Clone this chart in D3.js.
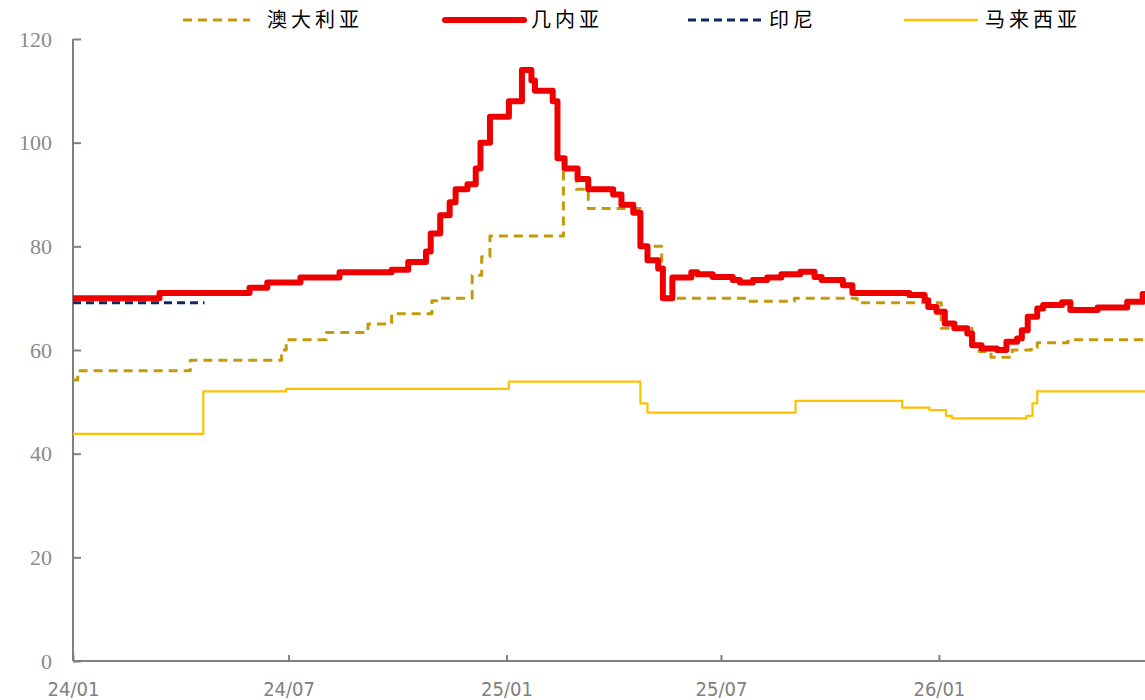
<!DOCTYPE html>
<html>
<head>
<meta charset="utf-8">
<script src="https://cdn.jsdelivr.net/npm/d3@7"></script>
<style>
  body { margin: 0; background: #fff; }
  svg { display: block; }
</style>
</head>
<body>
<svg id="chart" width="1145" height="700"></svg>
<script>
// Series: [date, value], drawn as step lines
var guinea = [
  ["2024-01-01", 70], ["2024-03-14", 71], ["2024-05-29", 72], ["2024-06-13", 73],
  ["2024-07-11", 74], ["2024-08-13", 75], ["2024-09-26", 75.5], ["2024-10-10", 77],
  ["2024-10-25", 79], ["2024-10-29", 82.5], ["2024-11-06", 86], ["2024-11-14", 88.5],
  ["2024-11-19", 91], ["2024-11-29", 92], ["2024-12-06", 95], ["2024-12-10", 100],
  ["2024-12-18", 105], ["2025-01-03", 108], ["2025-01-14", 114], ["2025-01-22", 112],
  ["2025-01-25", 110], ["2025-02-09", 108], ["2025-02-13", 97], ["2025-02-19", 95],
  ["2025-03-02", 93], ["2025-03-11", 91], ["2025-04-01", 90], ["2025-04-08", 88],
  ["2025-04-18", 86.5], ["2025-04-24", 80], ["2025-04-30", 77.3], ["2025-05-09", 75.7],
  ["2025-05-13", 70], ["2025-05-21", 74], ["2025-06-06", 75], ["2025-06-11", 74.6],
  ["2025-06-24", 74.1], ["2025-07-11", 73.5], ["2025-07-17", 73], ["2025-07-28", 73.5],
  ["2025-08-09", 74], ["2025-08-21", 74.6], ["2025-09-06", 75.1], ["2025-09-18", 74.1],
  ["2025-09-24", 73.5], ["2025-10-12", 72.5], ["2025-10-20", 71], ["2025-12-07", 70.6],
  ["2025-12-20", 69.6], ["2025-12-23", 68.3], ["2025-12-30", 67.4], ["2026-01-06", 65.1],
  ["2026-01-14", 64.2], ["2026-01-25", 63.2], ["2026-01-29", 60.9], ["2026-02-06", 60.3],
  ["2026-02-19", 60], ["2026-02-27", 61.6], ["2026-03-08", 62.2], ["2026-03-12", 63.8],
  ["2026-03-17", 66.4], ["2026-03-25", 68], ["2026-03-30", 68.7], ["2026-04-15", 69.2],
  ["2026-04-22", 67.7], ["2026-05-15", 68.2], ["2026-06-09", 69.3], ["2026-06-22", 70.8],
  ["2026-06-24", 71.2]
];

var australia = [
  ["2024-01-01", 54.2], ["2024-01-05", 56], ["2024-04-09", 58], ["2024-06-25", 60],
  ["2024-06-29", 62], ["2024-08-02", 63.4], ["2024-09-06", 65], ["2024-09-26", 67],
  ["2024-10-30", 69.5], ["2024-11-03", 70], ["2024-12-03", 74.4], ["2024-12-11", 78],
  ["2024-12-18", 82], ["2025-02-18", 95], ["2025-03-01", 91], ["2025-03-11", 87.3],
  ["2025-04-24", 80], ["2025-05-12", 70], ["2025-07-23", 69.4], ["2025-09-01", 70],
  ["2025-10-24", 69.1], ["2026-01-03", 64.2], ["2026-01-29", 60.8], ["2026-02-04", 59.7],
  ["2026-02-14", 58.6], ["2026-03-04", 60], ["2026-03-20", 60.5], ["2026-03-25", 61.4],
  ["2026-04-20", 62], ["2026-06-24", 62]
];

var indonesia = [
  ["2024-01-01", 69.1], ["2024-04-21", 69.1]
];

var malaysia = [
  ["2024-01-01", 43.8], ["2024-04-20", 52], ["2024-06-29", 52.5], ["2025-01-03", 53.9],
  ["2025-04-24", 49.7], ["2025-04-30", 47.9], ["2025-09-02", 50.2], ["2025-12-01", 48.9],
  ["2025-12-24", 48.4], ["2026-01-07", 47.3], ["2026-01-12", 46.8], ["2026-03-16", 47.3],
  ["2026-03-21", 49.7], ["2026-03-25", 52], ["2026-06-24", 52]
];

var seriesNames = ["澳大利亚", "几内亚", "印尼", "马来西亚"];
var yTicks = [0, 20, 40, 60, 80, 100, 120];

var parseDate = d3.timeParse("%Y-%m-%d");
var margin = {top: 39, right: 0, bottom: 39, left: 73};
var width = 1145 - margin.left - margin.right,
    height = 700 - margin.top - margin.bottom;

var svg = d3.select("#chart");
var g = svg.append("g").attr("transform", "translate(" + margin.left + "," + margin.top + ")");

var x = d3.scaleTime()
  .domain([parseDate("2024-01-01"), parseDate("2026-06-24")])
  .range([0, width]);
var y = d3.scaleLinear().domain([0, 120]).range([height, 0]);

var axisColor = "#808080";

// Y axis (ticks pointing inward)
var yAxis = g.append("g")
  .call(d3.axisLeft(y).tickValues(yTicks).tickSize(-8).tickPadding(21));
yAxis.select(".domain").attr("stroke", axisColor).attr("stroke-width", 2)
  .attr("d", "M0," + height + "V0");
yAxis.selectAll(".tick line").attr("stroke", axisColor).attr("stroke-width", 2);
yAxis.selectAll(".tick text")
  .attr("fill", "#8a8a8a")
  .style("font-family", "'Liberation Serif', serif")
  .style("font-size", "22px");

// X axis
var xAxis = g.append("g")
  .attr("transform", "translate(0," + height + ")")
  .call(d3.axisBottom(x)
    .ticks(d3.timeMonth.every(6))
    .tickFormat(d3.timeFormat("%y/%m"))
    .tickSize(-6).tickPadding(21));
xAxis.select(".domain").attr("stroke", axisColor).attr("stroke-width", 2)
  .attr("d", "M0,0H" + width);
xAxis.selectAll(".tick line").attr("stroke", axisColor).attr("stroke-width", 2);
xAxis.selectAll(".tick text")
  .attr("fill", axisColor)
  .style("font-family", "'DejaVu Sans Condensed', 'DejaVu Sans', sans-serif")
  .style("font-size", "20px");

var line = d3.line()
  .curve(d3.curveStepAfter)
  .x(function(d){ return x(parseDate(d[0])); })
  .y(function(d){ return y(d[1]); });

var styles = [
  {data: malaysia, color: "#FFC000", width: 2.2, dash: null},
  {data: australia, color: "#C39A0C", width: 3, dash: "9,6"},
  {data: indonesia, color: "#0C2A66", width: 3, dash: "8,5"},
  {data: guinea, color: "#EE0000", width: 6, dash: null}
];

styles.forEach(function(s){
  g.append("path")
    .datum(s.data)
    .attr("fill", "none")
    .attr("stroke", s.color)
    .attr("stroke-width", s.width)
    .attr("stroke-dasharray", s.dash)
    .attr("stroke-linejoin", "round")
    .attr("d", line);
});

// Legend
var legendItems = [
  {name: seriesNames[0], color: "#C39A0C", width: 3, dash: "9,6", x1: 183, x2: 250, tx: 267},
  {name: seriesNames[1], color: "#EE0000", width: 6, dash: null, x1: 445, x2: 524, tx: 531},
  {name: seriesNames[2], color: "#0C2A66", width: 3, dash: "8,5", x1: 688, x2: 762, tx: 769},
  {name: seriesNames[3], color: "#FFC000", width: 2.5, dash: null, x1: 905, x2: 977, tx: 985}
];

var legend = svg.append("g").attr("class", "legend");
legendItems.forEach(function(d){
  legend.append("line")
    .attr("x1", d.x1).attr("x2", d.x2)
    .attr("y1", 20).attr("y2", 20)
    .attr("stroke", d.color)
    .attr("stroke-width", d.width)
    .attr("stroke-linecap", d.dash ? "butt" : "round")
    .attr("stroke-dasharray", d.dash);
  legend.append("text")
    .attr("x", d.tx).attr("y", 20)
    .attr("dy", "0.35em")
    .attr("fill", "#000")
    .style("font-family", "'Noto Sans CJK SC', sans-serif")
    .style("font-size", "20px")
    .style("letter-spacing", "4px")
    .text(d.name);
});
</script>
</body>
</html>
